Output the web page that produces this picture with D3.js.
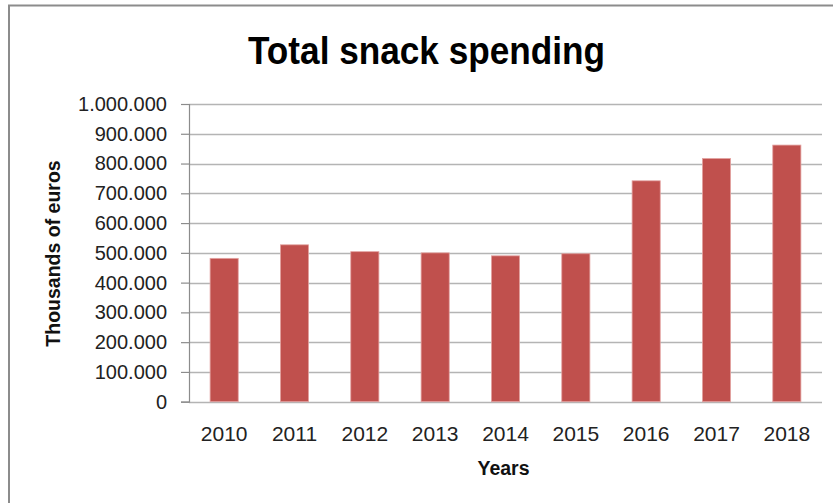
<!DOCTYPE html>
<html>
<head>
<meta charset="utf-8">
<script src="https://cdnjs.cloudflare.com/ajax/libs/d3/7.8.5/d3.min.js"></script>
<style>
    html, body { margin: 0; padding: 0; background: #fff; }
    svg { display: block; }
</style>
</head>
<body>
<svg id="chart" width="833" height="503"></svg>
<script>
"use strict";

// data
const years = ["2010", "2011", "2012", "2013", "2014", "2015", "2016", "2017", "2018"];
const spending = [481500, 527000, 504000, 500000, 490000, 497000, 742000, 817000, 862000];
const yTicks = [0, 100000, 200000, 300000, 400000, 500000, 600000, 700000, 800000, 900000, 1000000];

const svg = d3.select("#chart");
const width = 833, height = 503;
const margin = { top: 104, right: 11, bottom: 102, left: 189 };

// frame around the chart (top and left edge visible)
svg.append("path")
    .attr("d", `M9,${height} V5.5 H${width}`)
    .attr("fill", "none")
    .attr("stroke", "#8c8c8c")
    .attr("stroke-width", 2);

const x = d3.scaleBand()
    .domain(years)
    .range([margin.left, width - margin.right])
    .paddingInner(0.6)
    .paddingOuter(0.3);

const y = d3.scaleLinear()
    .domain([0, 1000000])
    .range([height - margin.bottom + 0.7, margin.top]);

// Excel-style dotted thousands separator
const fmt = d => d3.format(",")(d).replace(/,/g, ".");

// gridlines
svg.append("g")
    .selectAll("line")
    .data(yTicks)
    .join("line")
    .attr("x1", margin.left)
    .attr("x2", width - margin.right)
    .attr("y1", d => Math.round(y(d)) + 0.5)
    .attr("y2", d => Math.round(y(d)) + 0.5)
    .attr("stroke", "#b4b4b4")
    .attr("stroke-width", 1.3);

// bars
svg.append("g")
    .selectAll("rect")
    .data(spending)
    .join("rect")
    .attr("x", (d, i) => x(years[i]))
    .attr("y", d => y(d))
    .attr("width", x.bandwidth())
    .attr("height", d => y(0) - y(d))
    .attr("fill", "#c0504d")
    .attr("stroke", "#e3a3a1")
    .attr("stroke-width", 0.8);

// y axis
const yAxis = svg.append("g")
    .attr("transform", `translate(${margin.left},0)`)
    .call(d3.axisLeft(y).tickValues(yTicks).tickFormat(fmt).tickSize(8).tickPadding(14));
yAxis.select(".domain").attr("stroke", "#8c8c8c").attr("stroke-width", 1.2);
yAxis.selectAll(".tick line").attr("stroke", "#8c8c8c").attr("stroke-width", 1.2);
yAxis.selectAll(".tick text")
    .attr("fill", "#222")
    .style("font-family", "'Liberation Sans', Arial, sans-serif")
    .style("font-size", "20px");

// x axis labels
const xAxis = svg.append("g")
    .attr("transform", `translate(0,${y(0)})`)
    .call(d3.axisBottom(x).tickSize(0).tickPadding(24));
xAxis.select(".domain").remove();
xAxis.selectAll(".tick text")
    .attr("fill", "#222")
    .style("font-family", "'Liberation Sans', Arial, sans-serif")
    .style("font-size", "21px");

// title
svg.append("text")
    .attr("x", 426.5)
    .attr("y", 63.5)
    .attr("text-anchor", "middle")
    .attr("textLength", 357)
    .attr("lengthAdjust", "spacingAndGlyphs")
    .style("font-family", "'Liberation Sans', Arial, sans-serif")
    .style("font-weight", "bold")
    .style("font-size", "38px")
    .attr("fill", "#000")
    .text("Total snack spending");

// axis titles
svg.append("text")
    .attr("x", 503.5)
    .attr("y", 474.5)
    .attr("text-anchor", "middle")
    .style("font-family", "'Liberation Sans', Arial, sans-serif")
    .style("font-weight", "bold")
    .style("font-size", "19.5px")
    .attr("fill", "#111")
    .text("Years");

svg.append("text")
    .attr("transform", "translate(60,253.5) rotate(-90)")
    .attr("text-anchor", "middle")
    .style("font-family", "'Liberation Sans', Arial, sans-serif")
    .style("font-weight", "bold")
    .style("font-size", "19.5px")
    .attr("fill", "#111")
    .text("Thousands of euros");
</script>
</body>
</html>
